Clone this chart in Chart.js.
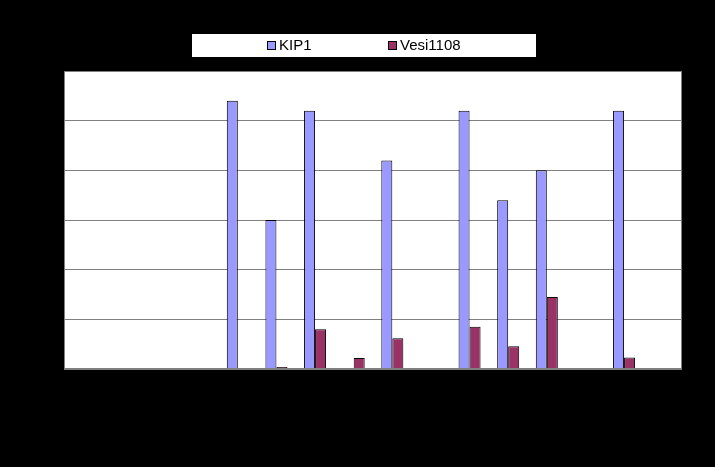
<!DOCTYPE html>
<html>
<head>
<meta charset="utf-8">
<script src="https://cdn.jsdelivr.net/npm/chart.js@4"></script>
<style>
    html, body { margin: 0; padding: 0; background: #000; }
    #wrap { width: 715px; height: 467px; position: relative; }
</style>
</head>
<body>
<div id="wrap"><canvas id="grafico"></canvas></div>
<script>
// Datos (16 categorías, etiquetas no visibles en el original)
const categorias = ['1', '2', '3', '4', '5', '6', '7', '8', '9', '10', '11', '12', '13', '14', '15', '16'];
const valoresKIP1 = [null, null, null, null, 5.4, 3.0, 5.2, null, 4.2, null, 5.2, 3.4, 4.0, null, 5.2, null];
const valoresVesi = [null, null, null, null, null, 0.04, 0.8, 0.22, 0.62, null, 0.85, 0.46, 1.45, null, 0.23, null];
const ticksY = [0, 1, 2, 3, 4, 5, 6];

// Fondo blanco y borde gris del área de trazado
const fondoPlot = {
    id: 'fondoPlot',
    beforeDraw(chart) {
        const { ctx, chartArea: a } = chart;
        ctx.save();
        ctx.fillStyle = '#fff';
        ctx.fillRect(a.left, a.top, a.right - a.left, a.bottom - a.top);
        ctx.restore();
    },
    afterDraw(chart) {
        const { ctx, chartArea: a } = chart;
        ctx.save();
        ctx.strokeStyle = '#808080';
        ctx.lineWidth = 1;
        ctx.strokeRect(a.left + 0.5, a.top + 0.5, a.right - a.left - 1, a.bottom - a.top - 1);
        ctx.restore();
    }
};

// Leyenda en caja blanca sobre el gráfico
const leyendaCaja = {
    id: 'leyendaCaja',
    afterDraw(chart) {
        const ctx = chart.ctx;
        ctx.save();
        ctx.fillStyle = '#fff';
        ctx.fillRect(191, 33, 346, 25);
        ctx.strokeStyle = '#000';
        ctx.lineWidth = 1;
        ctx.strokeRect(191.5, 33.5, 345, 24);
        ctx.font = '15px "Liberation Sans", Arial, sans-serif';
        ctx.textBaseline = 'middle';
        const posiciones = [267, 388];
        chart.data.datasets.forEach((ds, i) => {
            const x = posiciones[i];
            ctx.fillStyle = ds.backgroundColor;
            ctx.fillRect(x, 41.5, 8, 8);
            ctx.strokeStyle = '#000';
            ctx.strokeRect(x + 0.5, 41.5, 8, 8);
            ctx.fillStyle = '#000';
            ctx.fillText(ds.label, x + 12, 46);
        });
        ctx.restore();
    }
};

const ctx = document.getElementById('grafico').getContext('2d');
const grafico = new Chart(ctx, {
    type: 'bar',
    data: {
        labels: categorias,
        datasets: [
            {
                label: 'KIP1',
                data: valoresKIP1,
                backgroundColor: '#9999FF',
                borderColor: '#000',
                borderWidth: 1
            },
            {
                label: 'Vesi1108',
                data: valoresVesi,
                backgroundColor: '#993366',
                borderColor: '#000',
                borderWidth: 1
            }
        ]
    },
    options: {
        responsive: true,
        maintainAspectRatio: false,
        animation: false,
        layout: {
            padding: { left: 64, right: 33, top: 71, bottom: 90 }
        },
        datasets: {
            bar: {
                categoryPercentage: 0.57,
                barPercentage: 1.0
            }
        },
        scales: {
            x: {
                grid: { display: false },
                border: { display: false },
                ticks: { display: false }
            },
            y: {
                min: 0,
                max: 6,
                afterBuildTicks: (axis) => {
                    axis.ticks = ticksY.map(v => ({ value: v }));
                },
                grid: { color: '#808080', drawTicks: false },
                border: { display: false },
                ticks: { display: false }
            }
        },
        plugins: {
            legend: { display: false },
            tooltip: { enabled: false }
        }
    },
    plugins: [fondoPlot, leyendaCaja]
});
</script>
</body>
</html>
